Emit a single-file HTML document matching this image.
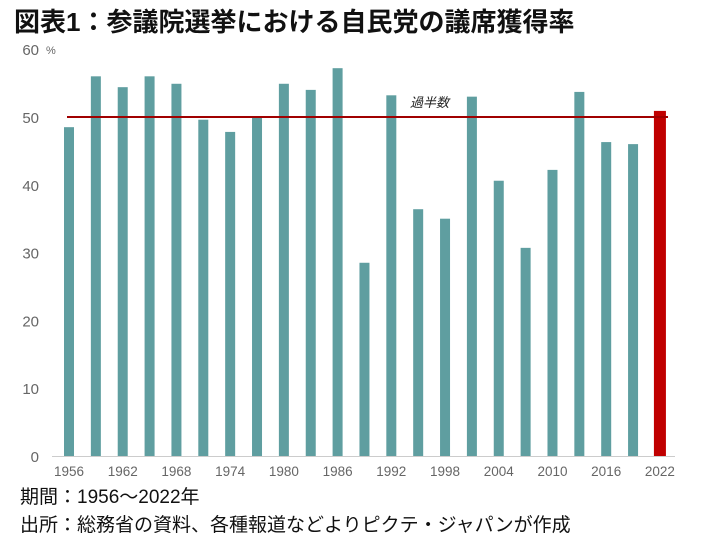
<!DOCTYPE html>
<html><head><meta charset="utf-8"><style>
body{margin:0;background:#fff;width:707px;height:540px;overflow:hidden;font-family:"Liberation Sans","Noto Sans CJK JP",sans-serif}
svg text{font-family:"Liberation Sans","Noto Sans CJK JP",sans-serif}
</style></head><body>
<svg width="707" height="540">
<text x="14" y="31" font-size="26" font-weight="bold" fill="#111">図表1：参議院選挙における自民党の議席獲得率</text>
<g id="yaxis"></g>
<g id="bars"></g>
<g id="xaxis"></g>
<text x="20" y="503" font-size="19" fill="#111">期間：1956～2022年</text>
<text x="20" y="531" font-size="19" fill="#111">出所：総務省の資料、各種報道などよりピクテ・ジャパンが作成</text>
</svg>
<script>
const years=[1956,1959,1962,1965,1968,1971,1974,1977,1980,1983,1986,1989,1992,1995,1998,2001,2004,2007,2010,2013,2016,2019,2022];
const values=[48.5,56,54.4,56,54.9,49.6,47.8,50,54.9,54,57.2,28.5,53.2,36.4,35,53,40.6,30.7,42.2,53.7,46.3,46,50.9];
const yTicks=[0,10,20,30,40,50,60];
const xLabels=[1956,1962,1968,1974,1980,1986,1992,1998,2004,2010,2016,2022];
const majority=50;
const NS="http://www.w3.org/2000/svg";
const y=v=>456-v*6.78;
const x=yr=>69+(yr-1956)/3*26.86;
function mk(t,a,p){const e=document.createElementNS(NS,t);for(const k in a)e.setAttribute(k,a[k]);p.appendChild(e);return e;}
const ya=document.getElementById('yaxis'),ba=document.getElementById('bars'),xa=document.getElementById('xaxis');
yTicks.forEach(v=>{const t=mk('text',{x:39,y:y(v)+6,'font-size':15,fill:'#666','text-anchor':'end'},ya);t.textContent=v;

});
const pct=mk('text',{x:46,y:y(60)+5,'font-size':11,fill:'#666'},ya);pct.textContent='%';


const base=mk('line',{x1:52,x2:675,y1:456.5,y2:456.5,stroke:'#ccc'},xa);


years.forEach((yr,i)=>{const last=i===years.length-1;const w=last?12:10;
const r=mk('rect',{x:x(yr)-w/2,y:y(values[i]),width:w,height:456-y(values[i]),fill:last?'#c00000':'#5f9ea0'},ba);

});
xLabels.forEach(yr=>{const t=mk('text',{x:x(yr),y:476,'font-size':13.5,fill:'#666','text-anchor':'middle'},xa);t.textContent=yr;

});
const ml=mk('line',{x1:67,x2:668,y1:y(majority),y2:y(majority),stroke:'#a00000','stroke-width':2},ba);


const mt=mk('text',{x:410,y:y(majority)-10,'font-size':13,fill:'#222','font-style':'italic'},ba);mt.textContent='過半数';


</script>
</body></html>
